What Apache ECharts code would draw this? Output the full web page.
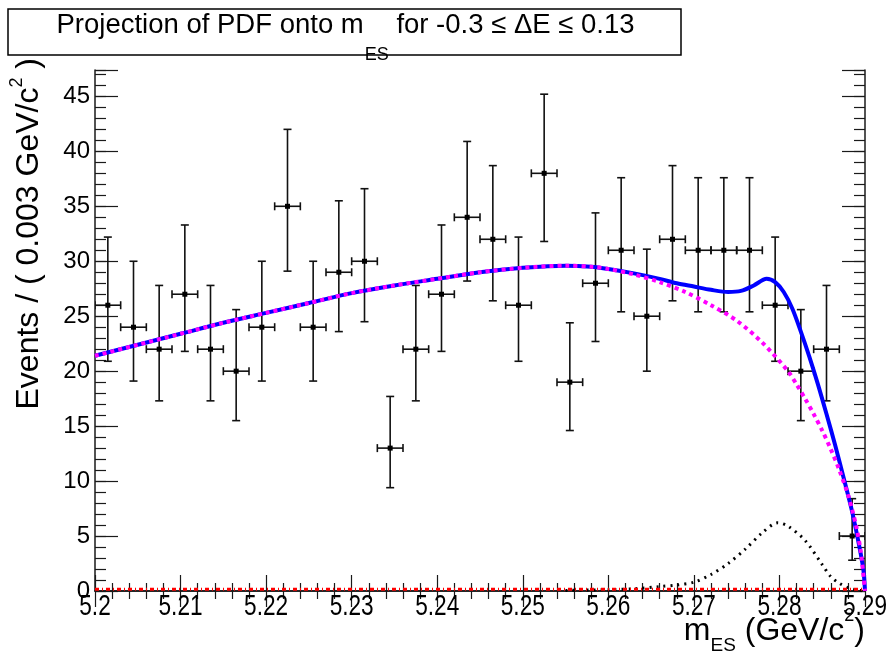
<!DOCTYPE html>
<html>
<head>
<meta charset="utf-8">
<script src="https://cdn.jsdelivr.net/npm/echarts@6/dist/echarts.min.js"></script>
<style>
html,body{margin:0;padding:0;background:#fff;}
#main{width:888px;height:655px;}
</style>
</head>
<body>
<div id="main"></div>
<script>
// data points (bin centres, counts, poisson error band)
var binWidth = 0.003;
var binCenter = [5.2015, 5.2045, 5.2075, 5.2105, 5.2135, 5.2165, 5.2195, 5.2225, 5.2255, 5.2285,
    5.2315, 5.2345, 5.2375, 5.2405, 5.2435, 5.2465, 5.2495, 5.2525, 5.2555, 5.2585,
    5.2615, 5.2645, 5.2675, 5.2705, 5.2735, 5.2765, 5.2795, 5.2825, 5.2855, 5.2885];
var counts = [26, 24, 22, 27, 22, 20, 24, 35, 24, 29,
    30, 13, 22, 27, 34, 32, 26, 38, 19, 28,
    31, 25, 32, 31, 31, 31, 26, 20, 22, 5];
var errLow = [20.9, 19.1, 17.3, 21.8, 17.3, 15.5, 19.1, 29.1, 19.1, 23.6,
    24.5, 9.4, 17.3, 21.8, 28.2, 26.4, 20.9, 31.8, 14.6, 22.7,
    25.4, 20.0, 26.4, 25.4, 25.4, 25.4, 20.9, 15.5, 17.3, 2.8];
var errHigh = [32.2, 30.0, 27.8, 33.3, 27.8, 25.6, 30.0, 42.0, 30.0, 35.5,
    36.6, 17.7, 27.8, 33.3, 40.9, 38.7, 32.2, 45.2, 24.4, 34.4,
    37.6, 31.1, 38.7, 37.6, 37.6, 37.6, 32.2, 25.6, 27.8, 8.4];

// full PDF (blue)
var totalX = [5.2, 5.205, 5.21, 5.215, 5.22, 5.225, 5.23, 5.235, 5.24, 5.245, 5.25, 5.255, 5.258, 5.26,
    5.263, 5.266, 5.268, 5.27, 5.272, 5.274, 5.2755, 5.277, 5.2785, 5.2795, 5.2805, 5.2815, 5.2825,
    5.2835, 5.2845, 5.2855, 5.2865, 5.2875, 5.2885, 5.2893, 5.2898, 5.29];
var totalY = [21.4, 22.4, 23.4, 24.4, 25.3, 26.2, 27.1, 27.8, 28.4, 29.0, 29.4, 29.6, 29.5, 29.3,
    28.9, 28.4, 28.0, 27.7, 27.4, 27.2, 27.3, 27.8, 28.4, 28.1, 27.2, 25.7, 23.6,
    21.3, 18.8, 16.1, 13.3, 10.3, 7.2, 4.2, 2.0, 0];

// background (magenta dotted)
var bkgX = [5.2, 5.205, 5.21, 5.215, 5.22, 5.225, 5.23, 5.235, 5.24, 5.245, 5.25, 5.255, 5.258, 5.26,
    5.263, 5.266, 5.269, 5.272, 5.275, 5.278, 5.281, 5.282, 5.283, 5.284, 5.285, 5.286, 5.287,
    5.288, 5.2885, 5.289, 5.2895, 5.29];
var bkgY = [21.4, 22.4, 23.4, 24.4, 25.3, 26.2, 27.1, 27.8, 28.4, 29.0, 29.4, 29.6, 29.5, 29.3,
    28.8, 28.1, 27.2, 26.0, 24.6, 22.6, 20.0, 18.8, 17.5, 16.1, 14.6, 12.9, 11.0,
    8.8, 7.4, 5.8, 3.6, 0];

// signal (black dotted)
var sigX = [5.255, 5.26, 5.263, 5.266, 5.268, 5.27, 5.272, 5.274, 5.276, 5.278, 5.2798,
    5.281, 5.283, 5.285, 5.286, 5.287, 5.288, 5.289, 5.29];
var sigY = [0.05, 0.12, 0.2, 0.4, 0.55, 0.8, 1.5, 2.5, 3.8, 5.3, 6.2,
    5.9, 4.6, 2.4, 1.3, 0.7, 0.3, 0.1, 0];

// red component, flat near zero
var redX = [5.2, 5.29];
var redY = [0.15, 0.15];

// x tick labels (drawn as narrow text)
var xTickLabels = ['5.2', '5.21', '5.22', '5.23', '5.24', '5.25', '5.26', '5.27', '5.28', '5.29'];

function pairs(xs, ys){
    var out = [];
    for(var i=0;i<xs.length;i++){
        out.push([xs[i], ys[i]]);
    }
    return out;
}

var pointData = [];
for(var i=0;i<binCenter.length;i++){
    pointData.push([binCenter[i], counts[i], errLow[i], errHigh[i]]);
}

function renderPoint(params, api){
    var x = api.value(0), y = api.value(1);
    var c = api.coord([x, y]);
    var lo = api.coord([x, api.value(2)]);
    var hi = api.coord([x, api.value(3)]);
    var l = api.coord([x - binWidth/2, y]);
    var r = api.coord([x + binWidth/2, y]);
    var st = {stroke:'#111', lineWidth:1.6};
    return {
        type:'group',
        children:[
            {type:'line', shape:{x1:c[0], y1:lo[1], x2:c[0], y2:hi[1]}, style:st},
            {type:'line', shape:{x1:c[0]-4, y1:lo[1], x2:c[0]+4, y2:lo[1]}, style:st},
            {type:'line', shape:{x1:c[0]-4, y1:hi[1], x2:c[0]+4, y2:hi[1]}, style:st},
            {type:'line', shape:{x1:l[0], y1:c[1], x2:r[0], y2:c[1]}, style:st},
            {type:'line', shape:{x1:l[0], y1:c[1]-4, x2:l[0], y2:c[1]+4}, style:st},
            {type:'line', shape:{x1:r[0], y1:c[1]-4, x2:r[0], y2:c[1]+4}, style:st},
            {type:'rect', shape:{x:c[0]-2.5, y:c[1]-2.5, width:5, height:5}, style:{fill:'#000'}}
        ]
    };
}

var axisCol = '#1a1a1a';
var fontFam = '"Liberation Sans", Arial, sans-serif';
var myChart = echarts.init(document.getElementById('main'), null, {renderer:'canvas'});

var graphics = [
    {
        type:'rect', z:10,
        shape:{x:8, y:9, width:673, height:46},
        style:{fill:'#fff', stroke:'#000', lineWidth:1.5}
    },
    {
        type:'text', z:11, x:345.5, y:11,
        style:{
            text:'{m|Projection of PDF onto m}{s|ES}{m| for -0.3 ≤ ΔE ≤ 0.13}',
            align:'center', verticalAlign:'top',
            rich:{
                m:{fontSize:27.5, lineHeight:30, verticalAlign:'top', fontFamily:fontFam, fill:'#000'},
                s:{fontSize:18, lineHeight:18, verticalAlign:'top', padding:[35,0,0,1], fontFamily:fontFam, fill:'#000'}
            }
        }
    },
    {
        // y axis title, rotated
        type:'text', z:11, x:8.5, y:58, rotation:Math.PI/2,
        style:{
            text:'{m|Events / ( 0.003 GeV/c}{p|2}{m| )}',
            align:'right', verticalAlign:'top',
            rich:{
                m:{fontSize:32, lineHeight:32, verticalAlign:'top', padding:[5,0,0,0], fontFamily:fontFam, fill:'#000'},
                p:{fontSize:18, lineHeight:18, verticalAlign:'top', fontFamily:fontFam, fill:'#000'}
            }
        }
    },
    {
        // x axis title
        type:'text', z:11, x:865, y:607,
        style:{
            text:'{m|m}{s|ES}{m| (GeV/c}{p|2}{m|)}',
            align:'right', verticalAlign:'top',
            rich:{
                m:{fontSize:32, lineHeight:31, verticalAlign:'top', padding:[8,0,0,0], fontFamily:fontFam, fill:'#000'},
                s:{fontSize:19, lineHeight:20, verticalAlign:'top', padding:[29,0,0,0], fontFamily:fontFam, fill:'#000'},
                p:{fontSize:18, lineHeight:20, verticalAlign:'top', fontFamily:fontFam, fill:'#000'}
            }
        }
    }
];

var option = {
    animation:false,
    backgroundColor:'#fff',
    grid:{left:95, right:23, top:70, bottom:64},
    xAxis:[
        {
            type:'value', position:'bottom', min:5.2, max:5.29, interval:0.01,
            axisLine:{show:true, lineStyle:{color:axisCol, width:1.5}},
            axisTick:{show:true, inside:true, length:16, lineStyle:{color:axisCol, width:1.2}},
            minorTick:{show:true, splitNumber:5, length:8, lineStyle:{color:axisCol, width:1.2}},
            splitLine:{show:false},
            axisLabel:{show:false}
        },
        {
            type:'value', position:'top', min:5.2, max:5.29, interval:0.01,
            axisLine:{show:true, lineStyle:{color:axisCol, width:1.5}},
            axisTick:{show:true, inside:true, length:16, lineStyle:{color:axisCol, width:1.2}},
            minorTick:{show:true, splitNumber:5, length:8, lineStyle:{color:axisCol, width:1.2}},
            splitLine:{show:false},
            axisLabel:{show:false}
        }
    ],
    yAxis:[
        {
            type:'value', position:'left', min:0, max:47.4, interval:5,
            axisLine:{show:true, lineStyle:{color:axisCol, width:1.5}},
            axisTick:{show:true, inside:true, length:23, lineStyle:{color:axisCol, width:1.2}},
            splitLine:{show:false},
            axisLabel:{
                margin:5, color:'#000', fontSize:24, fontFamily:fontFam,
                formatter:function(v){ return v % 5 === 0 ? String(v) : ''; }
            }
        },
        {
            type:'value', position:'left', min:0, max:47.4, interval:1,
            axisLine:{show:false},
            axisTick:{show:true, inside:true, length:11, lineStyle:{color:axisCol, width:1.2}},
            splitLine:{show:false}, axisLabel:{show:false}
        },
        {
            type:'value', position:'right', min:0, max:47.4, interval:5,
            axisLine:{show:true, lineStyle:{color:axisCol, width:1.5}},
            axisTick:{show:true, inside:true, length:23, lineStyle:{color:axisCol, width:1.2}},
            splitLine:{show:false}, axisLabel:{show:false}
        },
        {
            type:'value', position:'right', min:0, max:47.4, interval:1,
            axisLine:{show:false},
            axisTick:{show:true, inside:true, length:11, lineStyle:{color:axisCol, width:1.2}},
            splitLine:{show:false}, axisLabel:{show:false}
        }
    ],
    graphic:graphics,
    series:[
        {
            name:'data', type:'custom', xAxisIndex:0, yAxisIndex:0,
            renderItem:renderPoint, data:pointData, clip:true, z:2,
            encode:{x:0, y:[1,2,3]}
        },
        {
            name:'total', type:'line', xAxisIndex:0, yAxisIndex:0,
            data:pairs(totalX, totalY), showSymbol:false, smooth:0.3,
            lineStyle:{color:'#0000ff', width:4}, z:3
        },
        {
            name:'background', type:'line', xAxisIndex:0, yAxisIndex:0,
            data:pairs(bkgX, bkgY), showSymbol:false, smooth:0.3,
            lineStyle:{color:'#ff00ff', width:4, type:[4,4]}, z:4
        },
        {
            name:'signal', type:'line', xAxisIndex:0, yAxisIndex:0,
            data:pairs(sigX, sigY), showSymbol:false, smooth:0.3,
            lineStyle:{color:'#000', width:3, type:[2,5]}, z:4
        },
        {
            name:'peaking', type:'line', xAxisIndex:0, yAxisIndex:0,
            data:pairs(redX, redY), showSymbol:false,
            lineStyle:{color:'#ff0000', width:3, type:[4,3,1,3]}, z:5
        }
    ]
};
myChart.setOption(option);

// x tick labels placed with the axis scale, squeezed to look like the original narrow font
var labelEls = xTickLabels.map(function(t){
    var px = myChart.convertToPixel({xAxisIndex:0}, parseFloat(t));
    return {
        type:'text', z:11, x:px, y:592, scaleX:0.78,
        style:{text:t, align:'center', verticalAlign:'top', fontSize:29, fontFamily:fontFam, fill:'#000'}
    };
});
myChart.setOption({graphic:graphics.concat(labelEls)});
</script>
</body>
</html>
